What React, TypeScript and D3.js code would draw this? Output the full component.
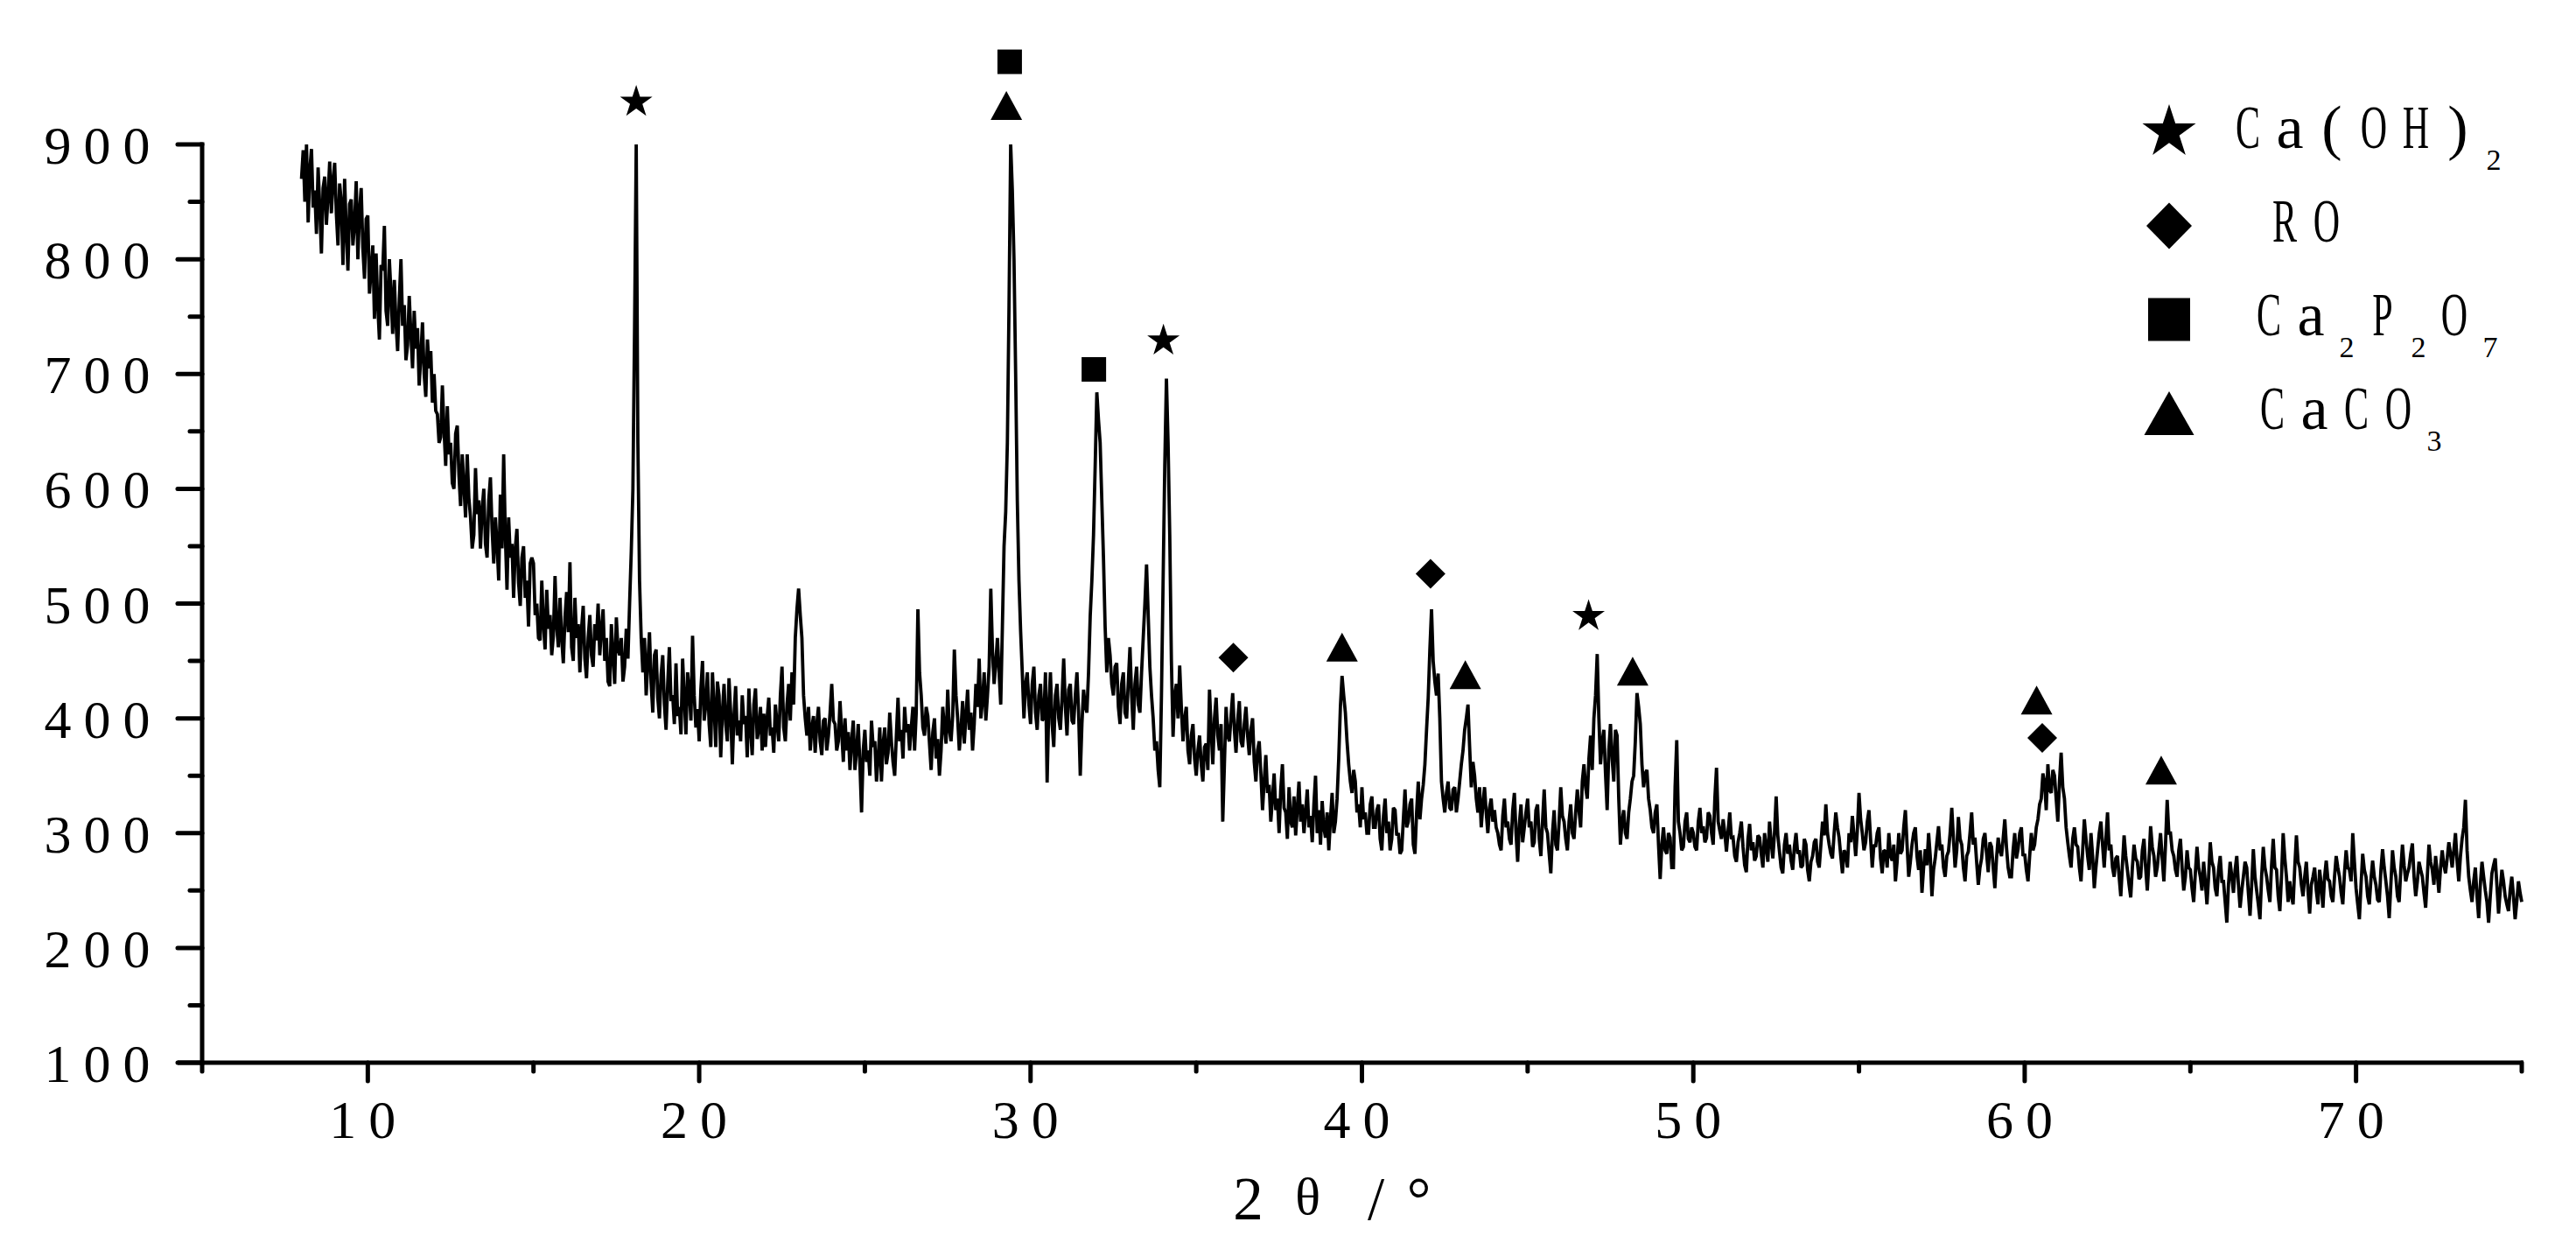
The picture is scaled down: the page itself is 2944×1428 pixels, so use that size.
import React from "react";
import * as d3 from "d3";

// XRD pattern: one row per degree of 2θ, starting at 8°, 0.05° steps
const rowStart = 8;
const angleStep = 0.05;
const intensityRows: number[][] = [
  [870, 895, 850, 900, 832, 878, 896, 845, 860, 822, 880, 845, 805, 862, 872, 830, 855, 885, 840, 868], // 8
  [884, 840, 812, 866, 850, 795, 870, 825, 790, 848, 852, 812, 830, 868, 800, 842, 862, 810, 783, 835], // 9
  [838, 770, 790, 812, 748, 805, 760, 730, 795, 790, 829, 755, 742, 800, 770, 735, 782, 745, 720, 765], // 10
  [800, 742, 760, 712, 725, 768, 735, 705, 755, 722, 740, 690, 716, 745, 700, 680, 730, 705, 720, 675], // 11
  [700, 668, 665, 640, 645, 690, 652, 620, 672, 630, 640, 605, 600, 648, 655, 612, 585, 630, 602, 575], // 12
  [630, 592, 575, 548, 560, 618, 578, 590, 548, 582, 600, 552, 540, 590, 610, 565, 535, 575, 552, 520], // 13
  [595, 548, 630, 560, 512, 575, 540, 552, 505, 548, 565, 518, 498, 540, 550, 505, 520, 480, 535, 540], // 14
  [535, 490, 500, 470, 468, 520, 482, 460, 512, 478, 490, 455, 472, 524, 480, 462, 505, 470, 448, 488], // 15
  [510, 475, 536, 462, 450, 505, 470, 482, 440, 478, 498, 452, 435, 470, 490, 455, 445, 482, 468, 500], // 16
  [455, 478, 495, 450, 470, 432, 428, 482, 455, 430, 488, 460, 455, 470, 432, 445, 478, 452, 500, 545], // 17
  [600, 740, 900, 640, 520, 470, 440, 470, 420, 448, 475, 430, 405, 455, 460, 418, 400, 438, 455, 412], // 18
  [390, 430, 462, 415, 420, 395, 448, 402, 410, 386, 452, 418, 386, 440, 425, 398, 472, 420, 392, 408], // 19
  [380, 425, 450, 398, 412, 440, 395, 375, 440, 410, 375, 432, 420, 366, 405, 430, 395, 380, 435, 405], // 20
  [360, 402, 428, 385, 398, 380, 420, 395, 402, 366, 426, 390, 368, 412, 426, 382, 390, 410, 372, 404], // 21
  [375, 400, 418, 385, 392, 370, 412, 395, 380, 420, 445, 392, 380, 412, 430, 398, 440, 412, 470, 495], // 22
  [513, 490, 470, 420, 400, 385, 410, 372, 392, 402, 370, 395, 410, 380, 368, 398, 400, 372, 385, 405], // 23
  [430, 398, 395, 372, 380, 415, 388, 362, 400, 372, 388, 355, 380, 398, 355, 372, 395, 360, 318, 372], // 24
  [390, 362, 372, 350, 398, 375, 380, 345, 365, 392, 345, 378, 392, 360, 370, 405, 380, 362, 350, 385], // 25
  [418, 380, 390, 365, 410, 388, 395, 372, 392, 410, 372, 405, 495, 440, 420, 392, 385, 410, 402, 378], // 26
  [355, 388, 400, 365, 382, 350, 372, 410, 392, 378, 425, 390, 380, 402, 460, 420, 400, 372, 390, 415], // 27
  [378, 402, 425, 390, 405, 372, 395, 430, 410, 452, 400, 415, 440, 398, 420, 445, 513, 460, 430, 448], // 28
  [470, 440, 412, 480, 550, 580, 640, 760, 900, 860, 800, 700, 590, 520, 476, 440, 400, 430, 440, 412], // 29
  [395, 430, 445, 405, 390, 420, 430, 398, 400, 440, 344, 410, 440, 395, 375, 420, 430, 400, 390, 418], // 30
  [452, 410, 385, 425, 430, 398, 395, 420, 440, 405, 350, 395, 425, 410, 405, 440, 489, 520, 560, 620], // 31
  [684, 660, 640, 590, 540, 480, 440, 470, 455, 430, 420, 445, 448, 410, 395, 430, 440, 405, 400, 432], // 32
  [462, 420, 390, 430, 445, 412, 405, 440, 470, 500, 534, 490, 445, 420, 400, 372, 380, 355, 340, 420], // 33
  [520, 620, 696, 640, 560, 450, 384, 420, 430, 400, 446, 410, 380, 400, 410, 372, 360, 385, 395, 365], // 34
  [350, 372, 385, 360, 345, 375, 378, 355, 425, 390, 360, 400, 418, 385, 372, 395, 310, 360, 410, 385], // 35
  [380, 402, 422, 390, 370, 398, 415, 380, 375, 395, 410, 385, 368, 390, 400, 362, 345, 372, 380, 352], // 36
  [320, 345, 368, 335, 342, 310, 330, 352, 320, 330, 300, 338, 360, 322, 318, 295, 340, 310, 305, 332], // 37
  [298, 322, 345, 310, 325, 300, 318, 338, 305, 315, 292, 325, 350, 300, 320, 290, 328, 305, 296, 318], // 38
  [285, 312, 335, 300, 310, 330, 365, 410, 437, 420, 405, 380, 360, 345, 335, 355, 345, 318, 325, 305], // 39
  [340, 312, 318, 300, 300, 325, 332, 305, 305, 320, 325, 295, 285, 315, 330, 300, 310, 285, 295, 322], // 40
  [320, 298, 300, 282, 285, 312, 338, 305, 310, 325, 330, 290, 282, 318, 345, 312, 330, 342, 360, 390], // 41
  [418, 460, 495, 450, 432, 420, 439, 400, 345, 330, 318, 335, 345, 322, 320, 338, 340, 318, 330, 345], // 42
  [360, 372, 390, 400, 412, 375, 340, 362, 350, 330, 318, 340, 305, 325, 340, 318, 300, 322, 330, 310], // 43
  [320, 305, 300, 290, 285, 315, 330, 305, 310, 295, 290, 320, 335, 300, 275, 308, 325, 292, 305, 318], // 44
  [330, 305, 310, 288, 292, 320, 325, 295, 280, 310, 338, 305, 300, 282, 265, 300, 320, 290, 285, 310], // 45
  [340, 315, 310, 295, 285, 310, 325, 300, 295, 318, 338, 320, 305, 345, 360, 340, 330, 365, 385, 355], // 46
  [400, 420, 456, 400, 360, 380, 390, 352, 320, 372, 395, 365, 345, 390, 385, 330, 290, 310, 320, 300], // 47
  [295, 318, 330, 345, 350, 380, 422, 410, 395, 360, 340, 352, 355, 330, 320, 305, 300, 318, 325, 290], // 48
  [260, 290, 305, 285, 282, 300, 296, 270, 270, 340, 381, 310, 300, 285, 288, 310, 318, 295, 292, 305], // 49
  [300, 288, 285, 310, 322, 300, 306, 292, 296, 318, 315, 300, 290, 330, 357, 310, 302, 295, 312, 300], // 50
  [284, 302, 318, 295, 296, 280, 275, 292, 300, 310, 288, 272, 266, 295, 308, 285, 292, 276, 280, 298], // 51
  [296, 282, 270, 300, 288, 275, 310, 292, 278, 300, 332, 298, 284, 270, 265, 290, 300, 282, 290, 276], // 52
  [268, 288, 300, 282, 285, 270, 272, 295, 290, 268, 258, 275, 280, 292, 295, 275, 270, 290, 310, 298], // 53
  [325, 300, 290, 282, 278, 300, 318, 305, 296, 280, 265, 285, 282, 270, 300, 292, 315, 298, 280, 302], // 54
  [335, 312, 300, 285, 292, 310, 320, 295, 270, 290, 288, 300, 305, 278, 265, 285, 284, 270, 300, 280], // 55
  [276, 290, 258, 275, 300, 282, 285, 305, 320, 290, 262, 275, 290, 300, 305, 280, 268, 285, 248, 270], // 56
  [286, 272, 300, 280, 245, 268, 278, 292, 306, 285, 290, 270, 262, 280, 284, 300, 322, 295, 270, 285], // 57
  [314, 295, 290, 270, 258, 280, 284, 300, 318, 290, 296, 275, 255, 270, 278, 295, 300, 282, 266, 292], // 58
  [288, 270, 252, 278, 296, 285, 280, 295, 312, 288, 270, 262, 262, 285, 300, 278, 286, 300, 305, 280], // 59
  [282, 268, 258, 280, 300, 285, 290, 305, 312, 325, 330, 352, 345, 320, 360, 338, 335, 355, 350, 330], // 60
  [310, 345, 370, 340, 330, 305, 292, 280, 270, 295, 305, 290, 288, 270, 258, 285, 312, 295, 280, 268], // 61
  [300, 280, 252, 270, 285, 300, 310, 290, 270, 295, 318, 285, 290, 270, 262, 278, 280, 262, 245, 272], // 62
  [298, 280, 268, 255, 244, 270, 290, 278, 275, 260, 262, 285, 295, 270, 250, 275, 306, 288, 280, 262], // 63
  [270, 285, 300, 278, 258, 290, 329, 300, 300, 285, 280, 268, 262, 285, 295, 270, 250, 262, 285, 270], // 64
  [268, 252, 240, 265, 288, 270, 262, 250, 275, 258, 238, 262, 292, 275, 270, 252, 245, 268, 280, 258], // 65
  [258, 240, 222, 255, 275, 262, 248, 268, 280, 255, 235, 250, 262, 275, 270, 248, 228, 255, 286, 262], // 66
  [250, 238, 225, 262, 288, 270, 262, 250, 240, 272, 295, 270, 268, 245, 232, 262, 300, 278, 262, 240], // 67
  [258, 245, 238, 270, 298, 275, 270, 255, 245, 262, 275, 250, 230, 255, 262, 270, 250, 238, 268, 255], // 68
  [235, 262, 276, 260, 258, 245, 240, 262, 280, 270, 262, 248, 238, 265, 285, 270, 268, 258, 300, 275], // 69
  [252, 238, 225, 255, 282, 268, 262, 245, 238, 260, 276, 262, 255, 242, 240, 268, 286, 270, 258, 245], // 70
  [226, 255, 285, 270, 262, 245, 240, 268, 290, 272, 258, 265, 270, 282, 291, 262, 245, 258, 275, 268], // 71
  [262, 248, 235, 262, 290, 275, 268, 255, 280, 265, 248, 270, 285, 272, 265, 278, 292, 282, 270, 285], // 72
  [300, 275, 258, 280, 295, 305, 329, 285, 262, 250, 240, 258, 270, 245, 226, 255, 275, 262, 250, 240], // 73
  [222, 245, 265, 272, 278, 255, 230, 250, 268, 258, 245, 238, 232, 250, 262, 245, 225, 240, 258, 248], // 74
  [240], // 75
];

const xMajorTicks = [10, 20, 30, 40, 50, 60, 70];
const xMinorTicks = [5, 15, 25, 35, 45, 55, 65, 75];
const yMajorTicks = [100, 200, 300, 400, 500, 600, 700, 800, 900];
const yMinorTicks = [150, 250, 350, 450, 550, 650, 750, 850];

// phases: CH = Ca(OH)2, RO, CPO = Ca2P2O7, CC = CaCO3
const phaseKeys = ["CH", "RO", "CPO", "CC"];
const phaseLabels = [
  [{ t: "Ca(OH)" }, { t: "2", sub: true }],
  [{ t: "RO" }],
  [{ t: "Ca" }, { t: "2", sub: true }, { t: "P" }, { t: "2", sub: true }, { t: "O" }, { t: "7", sub: true }],
  [{ t: "CaCO" }, { t: "3", sub: true }],
];

// peak markers
const peakPhase = ["CH", "CPO", "CC", "CPO", "CH", "RO", "CC", "RO", "CC", "CH", "CC", "CC", "RO", "CC"];
const peakAngle = [18.1, 29.37, 29.27, 31.91, 34.01, 36.12, 39.4, 42.07, 43.12, 46.84, 48.17, 60.36, 60.53, 64.12];
const peakMarkLevel = [937, 972, 934, 704, 729, 453, 462, 526, 438, 489, 441, 416, 383, 355];

const W = 2944;
const H = 1428;
const FONT = "'Liberation Serif', 'Times New Roman', serif";

const markerPath = (key: string, w: number, h: number) => {
  if (key === "CH") return d3.symbol(d3.symbolStar, (w / 1.902) ** 2 / 0.8908)() as string;
  if (key === "RO") return `M0,${-h / 2}L${w / 2},0L0,${h / 2}L${-w / 2},0Z`;
  if (key === "CPO") return `M${-w / 2},${-h / 2}h${w}v${h}h${-w}Z`;
  return `M0,${-h / 2}L${w / 2},${h / 2}L${-w / 2},${h / 2}Z`;
};

const smallMark: Record<string, [number, number]> = { CH: [37, 37], RO: [34, 34], CPO: [28, 28], CC: [36, 33] };
const bigMark: Record<string, [number, number]> = { CH: [61, 57], RO: [52, 53], CPO: [48, 49], CC: [57, 50] };

type Part = { t: string; sub?: boolean };

// fixed-pitch text, narrow capitals like the original half-width font
const Glyphs = ({ parts, x, y, size, pitch, subSize = 34, subPitch = 34, subDrop = 25 }:
  { parts: Part[]; x: number; y: number; size: number; pitch: number; subSize?: number; subPitch?: number; subDrop?: number }) => {
  const out: React.ReactNode[] = [];
  let cx = x;
  let prev: number | null = null;
  parts.forEach((p, pi) => {
    [...p.t].forEach((ch, ci) => {
      const w = p.sub ? subPitch : pitch;
      if (prev !== null) cx += (prev + w) / 2;
      prev = w;
      const sx = /[A-Z]/.test(ch) ? 0.6 : 1;
      out.push(
        <text key={`${pi}-${ci}`} transform={`translate(${cx},${p.sub ? y + subDrop : y}) scale(${sx},1)`}
          fontSize={p.sub ? subSize : size} textAnchor="middle">{ch}</text>
      );
    });
  });
  return <g>{out}</g>;
};

export default function App() {
  const x = d3.scaleLinear().domain([5, 75]).range([231, 2882]);
  const y = d3.scaleLinear().domain([100, 900]).range([1214, 165]);

  const points: [number, number][] = intensityRows.flatMap((row, r) =>
    row.map((v, j) => [rowStart + r + j * angleStep, v] as [number, number])
  );

  const line = d3.line<[number, number]>()
    .x((d) => x(d[0]))
    .y((d) => y(d[1]));

  const x0 = x(5);
  const y0 = y(100);
  const xMid = (x0 + x(75)) / 2;
  const tickPitch = 45;

  return (
    <div style={{ position: "absolute", left: 0, top: 0 }}>
      <svg width={W} height={H} style={{ display: "block", background: "#fff", fontFamily: FONT }} fill="#000">
        {/* data */}
        <path d={line(points) as string} fill="none" stroke="#000" strokeWidth={3.8} strokeLinejoin="miter" strokeMiterlimit={2} />

        {/* peak markers */}
        {peakPhase.map((k, i) => (
          <path key={i} d={markerPath(k, smallMark[k][0], smallMark[k][1])}
            transform={`translate(${x(peakAngle[i])},${y(peakMarkLevel[i])})`} />
        ))}

        {/* axes */}
        <g stroke="#000" strokeWidth={5}>
          <line x1={x0} x2={x0} y1={y(900)} y2={y0} strokeLinecap="square" />
          <line x1={x0 - 28} x2={x(75) + 2} y1={y0} y2={y0} />
          {yMajorTicks.map((t) => (
            <line key={t} x1={x0 - 28} x2={x0} y1={y(t)} y2={y(t)} strokeLinecap="round" />
          ))}
          {yMinorTicks.map((t) => (
            <line key={t} x1={x0 - 14} x2={x0} y1={y(t)} y2={y(t)} strokeLinecap="round" />
          ))}
          {xMajorTicks.map((t) => (
            <line key={t} x1={x(t)} x2={x(t)} y1={y0} y2={y0 + 21} strokeLinecap="round" />
          ))}
          {xMinorTicks.map((t) => (
            <line key={t} x1={x(t)} x2={x(t)} y1={y0} y2={y0 + 10} strokeLinecap="round" />
          ))}
        </g>

        {/* tick labels */}
        {yMajorTicks.map((t) => {
          const s = String(t);
          return <Glyphs key={t} parts={[{ t: s }]} x={x0 - 75 - (s.length - 1) * tickPitch} y={y(t) + 22} size={62} pitch={tickPitch} />;
        })}
        {xMajorTicks.map((t) => {
          const s = String(t);
          return <Glyphs key={t} parts={[{ t: s }]} x={x(t) - 6 - ((s.length - 1) * tickPitch) / 2} y={y0 + 86} size={62} pitch={tickPitch} />;
        })}

        {/* axis title 2θ/° */}
        <g>
          <text x={xMid - 130} y={1393} fontSize={69} textAnchor="middle">2</text>
          <text x={xMid - 62} y={1387} fontSize={60} textAnchor="middle">θ</text>
          <text x={xMid + 16} y={1393} fontSize={69} textAnchor="middle">/</text>
          <text x={xMid + 65} y={1393} fontSize={69} textAnchor="middle">°</text>
        </g>

        {/* legend */}
        <g transform="translate(2479,151)">
          {phaseKeys.map((k, i) => (
            <g key={k} transform={`translate(0,${i * 107})`}>
              <path d={markerPath(k, bigMark[k][0], bigMark[k][1])} />
              <Glyphs parts={phaseLabels[i]} x={[90, 132, 114, 118][i]} y={18} size={70} pitch={48} />
            </g>
          ))}
        </g>
      </svg>
    </div>
  );
}
